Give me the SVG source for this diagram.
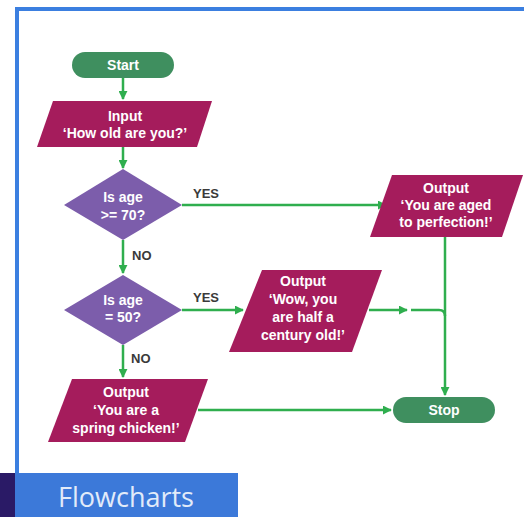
<svg xmlns="http://www.w3.org/2000/svg" width="524" height="517" viewBox="0 0 524 517">
<defs>
<marker id="ah" viewBox="0 0 10 10" refX="9" refY="5" markerWidth="9" markerHeight="9" markerUnits="userSpaceOnUse" orient="auto">
<path d="M0,0 L10,5 L0,10 z" fill="#2fae4e"/>
</marker>
<style>
.term{fill:#3f8f5f;}
.io{fill:#a51c5c;}
.dec{fill:#7c5dab;}
.t{font-family:"Liberation Sans",Arial,sans-serif;font-weight:bold;font-size:14px;fill:#ffffff;text-anchor:middle;}
.lbl{font-family:"Liberation Sans",Arial,sans-serif;font-weight:bold;font-size:13px;fill:#3a3a3a;}
.c{fill:none;stroke:#2fae4e;stroke-width:2.5;}
</style>
</defs>
<rect width="524" height="517" fill="#ffffff"/>
<g id="frame">
<path d="M17,475 V9 H524" fill="none" stroke="#3b7fe0" stroke-width="4"/>
<rect x="0" y="473" width="15" height="44" fill="#2a1a66"/>
<rect x="15" y="473" width="223" height="44" fill="#3c79d9"/>
<text x="126" y="507" font-family="'Open Sans','Noto Sans',sans-serif" font-size="27" fill="#e2ebf9" text-anchor="middle">Flowcharts</text>
</g>
<g id="connectors">
<path class="c" d="M123,78 V99" marker-end="url(#ah)"/>
<path class="c" d="M123,147 V168" marker-end="url(#ah)"/>
<path class="c" d="M182,205 H386" marker-end="url(#ah)"/>
<path class="c" d="M123,240 V273" marker-end="url(#ah)"/>
<path class="c" d="M182,310 H243" marker-end="url(#ah)"/>
<path class="c" d="M369,310 H407" marker-end="url(#ah)"/>
<path class="c" d="M411,310 H439 Q445,310 445,316"/>
<path class="c" d="M445,237 V395" marker-end="url(#ah)"/>
<path class="c" d="M123,345 V377" marker-end="url(#ah)"/>
<path class="c" d="M198,410 H391" marker-end="url(#ah)"/>
<text class="lbl" x="193" y="198">YES</text>
<text class="lbl" x="132" y="260">NO</text>
<text class="lbl" x="193" y="302">YES</text>
<text class="lbl" x="131" y="363">NO</text>
</g>
<g id="start">
<rect class="term" x="72" y="52" width="102" height="26" rx="13"/>
<text class="t" x="123" y="70">Start</text>
</g>
<g id="input">
<polygon class="io" points="53,101 212,101 197,147 37,147"/>
<text class="t" x="125" y="121">Input</text>
<text class="t" x="125" y="138">‘How old are you?’</text>
</g>
<g id="dec70">
<polygon class="dec" points="123,169 182,205 123,240 64,205"/>
<text class="t" x="123" y="202">Is age</text>
<text class="t" x="123" y="220">&gt;= 70?</text>
</g>
<g id="out70">
<polygon class="io" points="392,175 523,175 502,237 370,237"/>
<text class="t" x="446" y="193">Output</text>
<text class="t" x="446" y="210">‘You are aged</text>
<text class="t" x="446" y="227">to perfection!’</text>
</g>
<g id="dec50">
<polygon class="dec" points="123,275 182,310 123,345 64,310"/>
<text class="t" x="123" y="305">Is age</text>
<text class="t" x="123" y="322">= 50?</text>
</g>
<g id="out50">
<polygon class="io" points="262,270 382,270 352,352 229,352"/>
<text class="t" x="303" y="286">Output</text>
<text class="t" x="303" y="304">‘Wow, you</text>
<text class="t" x="303" y="322">are half a</text>
<text class="t" x="303" y="340">century old!’</text>
</g>
<g id="outspring">
<polygon class="io" points="72,379 208,379 185,442 48,442"/>
<text class="t" x="126" y="397">Output</text>
<text class="t" x="126" y="415">‘You are a</text>
<text class="t" x="126" y="433">spring chicken!’</text>
</g>
<g id="stop">
<rect class="term" x="393" y="397" width="102" height="26" rx="13"/>
<text class="t" x="444" y="415">Stop</text>
</g>
</svg>
